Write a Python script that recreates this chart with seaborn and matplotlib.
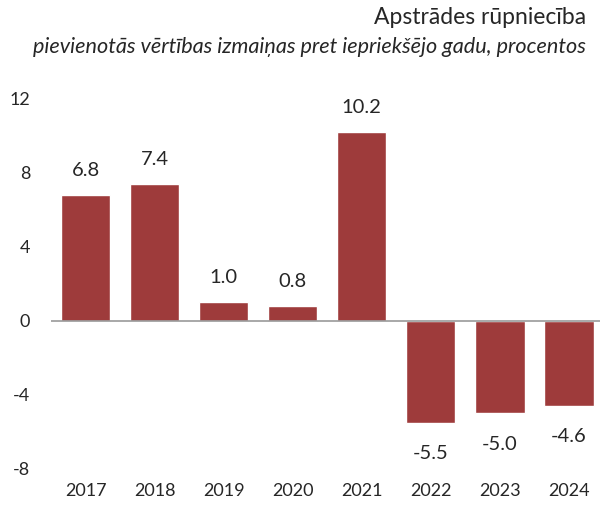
import pandas as pd
import matplotlib.pyplot as plt
import seaborn as sns

# data
years = ['2017', '2018', '2019', '2020', '2021', '2022', '2023', '2024']
values = [6.8, 7.4, 1.0, 0.8, 10.2, -5.5, -5.0, -4.6]
labels = ['6.8', '7.4', '1.0', '0.8', '10.2', '-5.5', '-5.0', '-4.6']
yticks = [12, 8, 4, 0, -4, -8]

df = pd.DataFrame({'year': years, 'value': values})

sns.set_theme(style='white')
plt.rcParams['font.family'] = ['Lato', 'DejaVu Sans']

fig = plt.figure(figsize=(6.03, 5.09), dpi=100)
ax = fig.add_axes([0.0846, 0.0786, 0.91, 0.727])

sns.barplot(data=df, x='year', y='value', color='#9E3B3B', width=0.72,
            saturation=1, ax=ax)

ax.axhline(0, color='#999999', lw=1.2, zorder=3)
ax.set_ylim(-8, 12)
ax.set_xlim(-0.5, 7.45)
ax.set_yticks(yticks)
ax.set_yticklabels([str(t) for t in yticks], fontsize=13)
ax.tick_params(axis='y', length=0, pad=15)
ax.tick_params(axis='x', length=0, pad=10, labelsize=13)
ax.set_xlabel('')
ax.set_ylabel('')
sns.despine(ax=ax, left=True, bottom=True)

# value labels
for i, (v, lab) in enumerate(zip(values, labels)):
    if v >= 0:
        ax.annotate(lab, (i, v), xytext=(0, 18), textcoords='offset points',
                    ha='center', va='center', fontsize=14.5)
    else:
        ax.annotate(lab, (i, v), xytext=(0, -22), textcoords='offset points',
                    ha='center', va='center', fontsize=14.5)

fig.text(0.972, 0.965, 'Apstrādes rūpniecība', ha='right', va='center',
         fontsize=16.5)
fig.text(0.972, 0.908, 'pievienotās vērtības izmaiņas pret iepriekšējo gadu, procentos',
         ha='right', va='center', fontsize=15.6, style='italic')

fig.savefig('out.png', dpi=100)
